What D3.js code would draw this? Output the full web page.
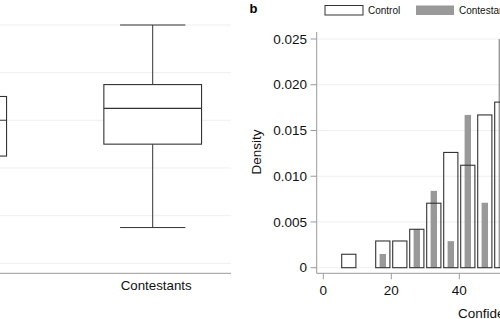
<!DOCTYPE html>
<html>
<head>
<meta charset="utf-8">
<script src="https://cdn.jsdelivr.net/npm/d3@7"></script>
<style>
  html, body { margin: 0; padding: 0; background: #fff; }
  svg { display: block; font-family: "Liberation Sans", Arial, sans-serif; }
</style>
</head>
<body>
<svg id="chart" width="500" height="319"></svg>
<script>
// panel a: box plot (summary stats, 0-100 scale)
const groups = ['Control', 'Contestants']
const boxLow = [10, 15]
const boxQ1 = [45, 50]
const boxMedian = [60, 65]
const boxQ3 = [70, 75]
const boxHigh = [95, 100]
const boxTicks = [0, 20, 40, 60, 80, 100]

// panel b: histogram densities, bins of width 5
const binStart = [5, 10, 15, 20, 25, 30, 35, 40, 45, 50]
const controlDensity = [0.00147, 0, 0.00292, 0.00292, 0.0042, 0.00705, 0.0126, 0.0112, 0.0167, 0.0181]
const contestantDensity = [0, 0, 0.0015, 0, 0.0042, 0.0084, 0.0029, 0.0167, 0.0071, 0.025]
const densityTicks = [0, 0.005, 0.010, 0.015, 0.020, 0.025]
const xTicks = [0, 20, 40, 60, 80, 100]
const binWidth = 5

const svg = d3.select('#chart')
const dark = '#333'
const axisGrey = '#9a9a9a'
const grid = '#efefef'

/* ---------- panel a ---------- */
const yA = d3.scaleLinear().domain([0, 100]).range([263.3, 25])
const xA = d3.scalePoint().domain(groups).range([-42.3, 152.7])
const boxW = 97.7
const capW = 65.3

const pa = svg.append('g')

pa.selectAll('line.grid')
  .data(boxTicks)
  .join('line')
  .attr('x1', 0).attr('x2', 231)
  .attr('y1', d => yA(d)).attr('y2', d => yA(d))
  .attr('stroke', grid).attr('stroke-width', 1)

pa.append('line')
  .attr('x1', 0).attr('x2', 231)
  .attr('y1', 273.3).attr('y2', 273.3)
  .attr('stroke', axisGrey).attr('stroke-width', 1)

const boxes = groups.map((g, i) => ({
  g, lo: boxLow[i], q1: boxQ1[i], med: boxMedian[i], q3: boxQ3[i], hi: boxHigh[i],
}))

const bx = pa.selectAll('g.box').data(boxes).join('g').attr('class', 'box')
// whiskers
bx.append('line')
  .attr('x1', d => xA(d.g)).attr('x2', d => xA(d.g))
  .attr('y1', d => yA(d.hi)).attr('y2', d => yA(d.q3))
  .attr('stroke', dark)
bx.append('line')
  .attr('x1', d => xA(d.g)).attr('x2', d => xA(d.g))
  .attr('y1', d => yA(d.q1)).attr('y2', d => yA(d.lo))
  .attr('stroke', dark)
bx.append('line')
  .attr('x1', d => xA(d.g) - capW / 2).attr('x2', d => xA(d.g) + capW / 2)
  .attr('y1', d => yA(d.hi)).attr('y2', d => yA(d.hi))
  .attr('stroke', dark)
bx.append('line')
  .attr('x1', d => xA(d.g) - capW / 2).attr('x2', d => xA(d.g) + capW / 2)
  .attr('y1', d => yA(d.lo)).attr('y2', d => yA(d.lo))
  .attr('stroke', dark)
// box + median
bx.append('rect')
  .attr('x', d => xA(d.g) - boxW / 2).attr('width', boxW)
  .attr('y', d => yA(d.q3)).attr('height', d => yA(d.q1) - yA(d.q3))
  .attr('fill', '#fff').attr('stroke', dark).attr('stroke-width', 1.1)
bx.append('line')
  .attr('x1', d => xA(d.g) - boxW / 2).attr('x2', d => xA(d.g) + boxW / 2)
  .attr('y1', d => yA(d.med)).attr('y2', d => yA(d.med))
  .attr('stroke', dark).attr('stroke-width', 1.1)

pa.selectAll('text.cat')
  .data(groups)
  .join('text')
  .attr('x', d => xA(d) + 3.5).attr('y', 290)
  .attr('text-anchor', 'middle')
  .attr('font-size', 13.3).attr('fill', '#111')
  .text(d => d)

/* ---------- panel b ---------- */
const x = d3.scaleLinear().domain([0, 100]).range([323.3, 663.3])
const y = d3.scaleLinear().domain([0, 0.025]).range([267.7, 39])
const axisX = 316.7
const axisY = 273.3

const pb = svg.append('g')

pb.selectAll('line.grid')
  .data(densityTicks)
  .join('line')
  .attr('x1', axisX).attr('x2', 500)
  .attr('y1', d => y(d)).attr('y2', d => y(d))
  .attr('stroke', grid).attr('stroke-width', 1)

const bins = binStart.map((b, i) => ({b, c: controlDensity[i], t: contestantDensity[i]}))

// contestant bars (grey, narrow)
pb.selectAll('rect.cont')
  .data(bins.filter(d => d.t > 0))
  .join('rect')
  .attr('x', d => x(d.b + binWidth / 2) - 3.2).attr('width', 6.4)
  .attr('y', d => y(d.t)).attr('height', d => y(0) - y(d.t))
  .attr('fill', '#999')

// control bars (outline)
pb.selectAll('rect.ctrl')
  .data(bins.filter(d => d.c > 0))
  .join('rect')
  .attr('x', d => x(d.b) + 1.4).attr('width', d => x(d.b + binWidth) - x(d.b) - 2.8)
  .attr('y', d => y(d.c)).attr('height', d => y(0) - y(d.c))
  .attr('fill', 'none').attr('stroke', dark).attr('stroke-width', 1.1)

// axes
pb.append('line')
  .attr('x1', axisX).attr('x2', axisX).attr('y1', 32).attr('y2', axisY)
  .attr('stroke', axisGrey)
pb.append('line')
  .attr('x1', axisX).attr('x2', 500).attr('y1', axisY).attr('y2', axisY)
  .attr('stroke', axisGrey)

pb.selectAll('line.ytick')
  .data(densityTicks)
  .join('line')
  .attr('x1', 310.5).attr('x2', axisX)
  .attr('y1', d => y(d)).attr('y2', d => y(d))
  .attr('stroke', axisGrey)
pb.selectAll('text.ylab')
  .data(densityTicks)
  .join('text')
  .attr('x', 307).attr('y', d => y(d) + 4.7)
  .attr('text-anchor', 'end')
  .attr('font-size', 13.5).attr('fill', '#111')
  .text(d => d === 0 ? '0' : d3.format('.3f')(d))

pb.selectAll('line.xtick')
  .data(xTicks)
  .join('line')
  .attr('x1', d => x(d)).attr('x2', d => x(d))
  .attr('y1', axisY).attr('y2', axisY + 6)
  .attr('stroke', axisGrey)
pb.selectAll('text.xlab')
  .data(xTicks)
  .join('text')
  .attr('x', d => x(d)).attr('y', 295)
  .attr('text-anchor', 'middle')
  .attr('font-size', 13.5).attr('fill', '#111')
  .text(d => d)

pb.append('text')
  .attr('x', 458).attr('y', 317.5)
  .attr('font-size', 13.5).attr('fill', '#111')
  .text('Confidence (%)')

pb.append('text')
  .attr('transform', 'translate(261,152) rotate(-90)')
  .attr('text-anchor', 'middle')
  .attr('font-size', 13.5).attr('fill', '#111')
  .text('Density')

pb.append('text')
  .attr('x', 249.5).attr('y', 12.7)
  .attr('font-size', 13).attr('font-weight', 'bold').attr('fill', '#000')
  .text('b')

// legend
const legend = [
  {label: 'Control', fill: '#fff', stroke: dark, x: 325},
  {label: 'Contestants', fill: '#999', stroke: 'none', x: 416},
]
const lg = pb.selectAll('g.legend').data(legend).join('g')
lg.append('rect')
  .attr('x', d => d.x).attr('y', 5.5).attr('width', 38).attr('height', 9.5)
  .attr('fill', d => d.fill).attr('stroke', d => d.stroke).attr('stroke-width', 1)
lg.append('text')
  .attr('x', d => d.x + 43).attr('y', 14.3)
  .attr('font-size', 10).attr('fill', '#111')
  .text(d => d.label)
</script>
</body>
</html>
